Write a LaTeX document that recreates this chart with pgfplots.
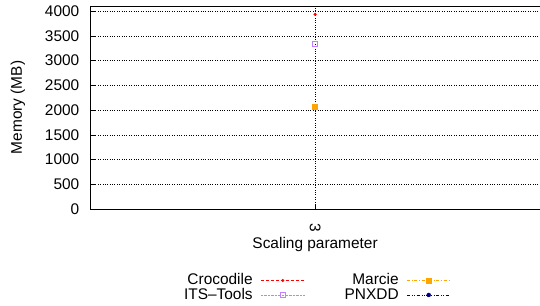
\documentclass[border=0pt]{standalone}
\usepackage{fontspec}
\setmainfont{Liberation Sans}
\usepackage{pgfplots}
\pgfplotsset{compat=1.18}
\definecolor{croc}{RGB}{255,0,0}
\definecolor{its}{RGB}{192,128,255}
\definecolor{marcie}{RGB}{255,165,0}
\definecolor{pnxdd}{RGB}{0,0,128}
\newcommand{\fs}{\fontsize{15.5}{17}\selectfont}
\begin{document}
\fs
\begin{tikzpicture}
\begin{axis}[
  at={(0pt,0pt)}, anchor=south west,
  scale only axis, width=451pt, height=204pt,
  xmin=2, xmax=4, ymin=0, ymax=4105,
  xtick={3}, xticklabels={3},
  xticklabel style={rotate=-90, anchor=west, font=\fs},
  xticklabel shift=9pt,
  ytick={0,500,...,4000},
  yticklabel style={font=\fs, xshift=-6pt},
  /pgf/number format/assume math mode=true,
  /pgf/number format/1000 sep={},
  scaled y ticks=false,
  tick align=inside, major tick length=4pt,
  tick style={black, line width=0.5pt},
  xtick pos=bottom, ytick pos=left,
  axis line style={draw=none},
  grid=major,
  major grid style={black, dotted, line width=0.5pt},
  xlabel={Scaling parameter},
  ylabel={Memory (MB)},
  every axis x label/.style={font=\fs, at={(rel axis cs:0.5,0)}, anchor=center, yshift=-36pt},
  every axis y label/.style={font=\fs, at={(rel axis cs:0,0.5)}, xshift=-73pt, rotate=90, anchor=center},
  clip=false,
  legend columns=2,
  legend plot pos=right,
  legend cell align=right,
  legend style={draw=none, fill=none, at={(rel axis cs:0.503,0)}, anchor=center, yshift=-79pt,
    font=\fs, row sep=-3pt,
    /tikz/every odd column/.append style={column sep=6pt},
    /tikz/every even column/.append style={column sep=38pt}},
  legend image code/.code={\draw[mark repeat=2,mark phase=2] plot coordinates {(0pt,0pt) (22pt,0pt) (44pt,0pt)};},
]
\draw[black, line width=0.8pt] (rel axis cs:0,1) -- (rel axis cs:0,0) -- (rel axis cs:1,0);
\draw[black, line width=0.8pt] (rel axis cs:0,1) -- (rel axis cs:1,1);
\addplot[croc, densely dashed, mark=*, mark size=1.4pt, mark options={solid}] coordinates {(3,3935)};
\addlegendentry{Crocodile}
\addplot[marcie, dash dot, mark=square*, mark size=2.5pt, mark options={solid}] coordinates {(3,2065)};
\addlegendentry{Marcie}
\addplot[its, densely dotted, mark=square, mark size=2.6pt, mark options={solid}] coordinates {(3,3335)};
\addlegendentry{ITS--Tools}
\addlegendimage{pnxdd, dash dot dot, mark=*, mark size=2pt, mark options={solid}}
\addlegendentry{PNXDD}
\end{axis}
\path[use as bounding box] (-91pt,-97pt) rectangle (449pt,210pt);
\end{tikzpicture}
\end{document}
